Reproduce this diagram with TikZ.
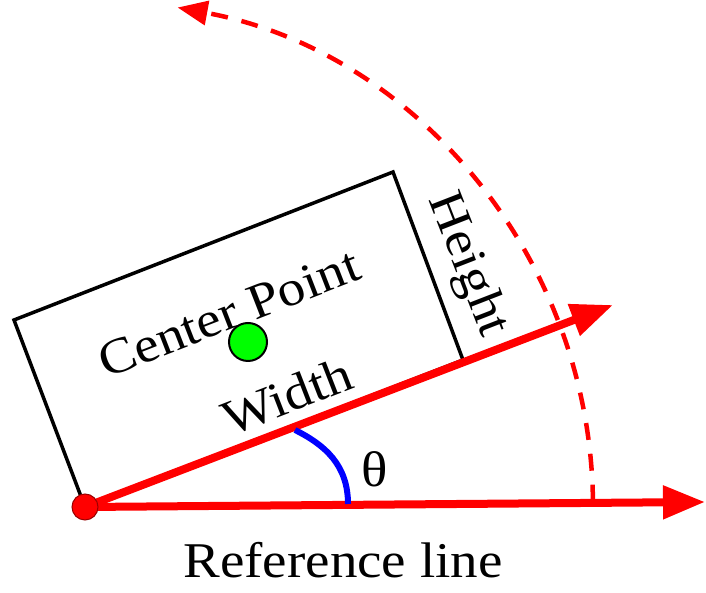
\documentclass[tikz,border=0pt]{standalone}
\usepackage{fontspec}
\setmainfont[FakeStretch=1.1]{Liberation Serif}
\usetikzlibrary{arrows.meta}
\begin{document}
\begin{tikzpicture}[x=1pt,y=1pt,
  lbl/.style={font=\fontsize{50}{60}\selectfont, inner sep=0pt},
  redline/.style={draw=red, line width=8pt},
  bigtip/.style={-{Triangle[length=42pt,width=32pt]}},
]
\useasboundingbox (0,0) rectangle (706,593);
\coordinate (O) at (85,86);
\coordinate (BR) at (463,233);
\coordinate (TR) at (393,421);
\coordinate (TL) at (14,273);
\coordinate (RE) at (705,91);
\coordinate (WE) at (613,288);
\coordinate (B) at (348,89);
\coordinate (T) at (295,163);
% rectangle
\draw[line width=3.5pt, line join=miter] (O) -- (TL) -- (TR) -- (BR) -- cycle;
% dashed rotation arc
\draw[red, line width=4.5pt, dash pattern=on 17pt off 14pt, -{Triangle[length=30pt,width=24pt]}]
  ([shift={(0.6:508)}]O) arc[start angle=0.6, end angle=79.5, radius=508];
% red lines
\draw[redline, bigtip] (O) -- (RE);
\draw[redline, bigtip] (O) -- (WE);
% angle arc
\draw[blue, line width=6pt] (B) .. controls (348,128) and (325,148) .. (T);
% dots
\node[circle, fill=red, draw=red!60!black, line width=1pt, minimum size=26pt, inner sep=0pt] (dot) at (O) {};
\node[circle, fill=green, draw=black, line width=2pt, minimum size=38pt, inner sep=0pt] (cp) at (248,251) {};
% labels
\node[lbl, rotate=21.25] (cpl) at (229,280) {Center Point};
\node[lbl, rotate=21.25] (wl) at (287,197) {Width};
\node[lbl, rotate=-68.75] (hl) at (467,328) {Height};
\node[lbl] (th) at (375,124) {θ};
\node[lbl] (rl) at (343,33) {Reference line};
\end{tikzpicture}
\end{document}
